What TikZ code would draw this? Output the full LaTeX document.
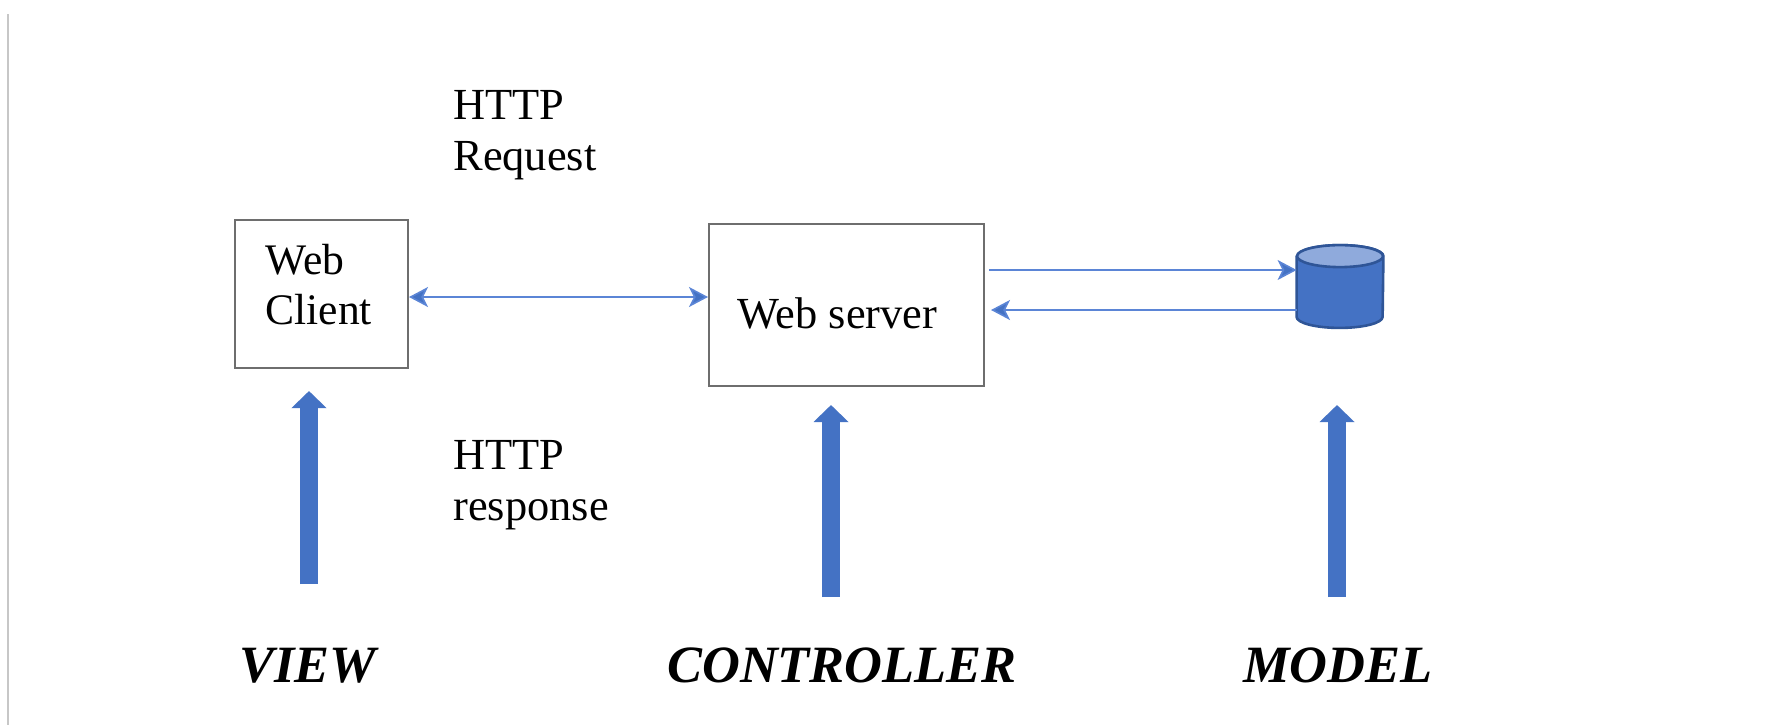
\documentclass[tikz,border=0pt]{standalone}
\usepackage{fontspec}
\setmainfont{Liberation Serif}
\usetikzlibrary{arrows.meta}
\definecolor{linkblue}{HTML}{5B85D6}
\definecolor{blockblue}{HTML}{4472C4}
\definecolor{cylborder}{HTML}{2F5597}
\definecolor{cyltop}{HTML}{8FAADC}
\definecolor{boxgray}{HTML}{6E6E6E}
\tikzset{
  x=0.5pt,y=-0.5pt,
  plainbox/.style={draw=boxgray,line width=1pt,fill=white,inner sep=0pt},
  lbl/.style={inner sep=0pt,anchor=base west,font=\fontsize{22.2}{25.5}\selectfont,align=left,text=black},
  tier/.style={inner sep=0pt,anchor=base,font=\fontsize{26.2}{30}\selectfont\bfseries\itshape,text=black},
  thin link/.style={draw=linkblue,line width=0.8pt,-{Stealth[length=9.5pt,width=10pt,inset=2.5pt,fill=blockblue]}},
  both link/.style={draw=linkblue,line width=0.8pt,{Stealth[length=9.5pt,width=10pt,inset=2.5pt,fill=blockblue]}-{Stealth[length=9.5pt,width=10pt,inset=2.5pt,fill=blockblue]}},
  blockarrow/.style={draw=blockblue,line width=9pt,-{Triangle[length=8.5pt,width=17pt]}},
  dbframe/.style={inner sep=0pt,minimum width=43pt,minimum height=41pt},
  dbpart/.style={draw=cylborder,line width=1.3pt,line join=round}
}
\begin{document}
\begin{tikzpicture}
\useasboundingbox (0,0) rectangle (1776,725);
\fill[white] (0,0) rectangle (1776,725);
\coordinate (edgetop) at (8,14);
\coordinate (edgebot) at (8,725);
\draw[draw=black!22,line width=1pt] (edgetop) -- (edgebot);

\node[plainbox,minimum width=86.5pt,minimum height=74pt] (client) at (321.5,294) {};
\node[plainbox,minimum width=137.5pt,minimum height=81pt] (server) at (846.5,305) {};

% database cylinder
\node[dbframe] (store) at (1340,286.5) {};
\path[dbpart,fill=blockblue]
  ([yshift=-5.5pt]store.north west) -- ([yshift=5.5pt]store.south west)
  arc[start angle=180,end angle=360,x radius=21.5pt,y radius=5.5pt]
  -- ([yshift=-5.5pt]store.north east)
  arc[start angle=0,end angle=180,x radius=21.5pt,y radius=5.5pt] -- cycle;
\path[dbpart,fill=cyltop] ([yshift=-5.5pt]store.north) ellipse [x radius=21.5pt,y radius=5.5pt];

\node[lbl,font=\fontsize{21.8}{25}\selectfont] (clienttext) at (265,324) {Web\\Client};
\node[lbl] (servertext) at (737,328) {Web server};
\node[lbl] (reqtext) at (453,170) {HTTP\\Request};
\node[lbl] (resptext) at (453,520) {HTTP\\response};

\draw[both link] ([yshift=-1.5pt]client.east) -- ([yshift=4pt]server.west);
\draw[thin link] ([xshift=2pt,yshift=17.5pt]server.east) -- ([yshift=8.25pt]store.west);
\draw[thin link] ([yshift=-11.75pt]store.west) -- ([xshift=3pt,yshift=-2.5pt]server.east);

\node[tier] (view) at (308,682) {VIEW};
\node[tier] (controller) at (842,682) {CONTROLLER};
\node[tier] (model) at (1338,682) {MODEL};

\coordinate (viewbase) at (309,584);
\coordinate (viewtip) at (309,391);
\coordinate (ctrlbase) at (831,597);
\coordinate (ctrltip) at (831,405);
\coordinate (modelbase) at (1337,597);
\coordinate (modeltip) at (1337,405);
\draw[blockarrow] (viewbase) -- (viewtip);
\draw[blockarrow] (ctrlbase) -- (ctrltip);
\draw[blockarrow] (modelbase) -- (modeltip);
\end{tikzpicture}
\end{document}
